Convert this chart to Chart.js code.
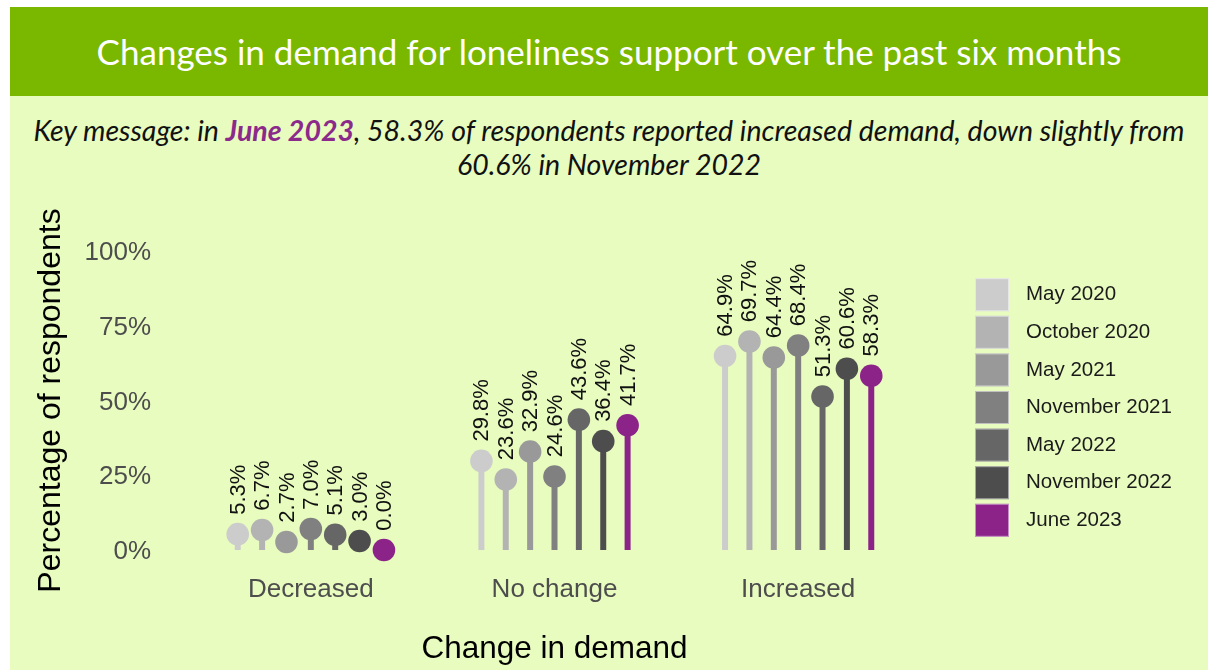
<!DOCTYPE html>
<html>
<head>
<meta charset="utf-8">
<title>Changes in demand for loneliness support</title>
<script src="https://cdn.jsdelivr.net/npm/chart.js@4.4.1/dist/chart.umd.min.js"></script>
<style>
  html, body { margin: 0; padding: 0; background: #fff; }
  .panel {
    position: absolute; left: 10px; top: 7px; width: 1198px; height: 663px;
    background: #e8fcbf; overflow: hidden;
  }
  .panel-head {
    height: 89px; background: #7ab800; color: #fff;
    font-family: Lato, 'Open Sans', sans-serif; font-size: 35px;
    text-align: center; line-height: 89px;
  }
  .key-msg {
    position: absolute; left: 0; top: 106px; width: 1198px; text-align: center;
    font-family: Lato, 'Open Sans', sans-serif; font-style: italic; font-size: 28.5px;
    line-height: 34px; color: #111;
  }
  .key-msg b { color: #8b2a8b; }
  #chart { position: absolute; left: 0; top: 183px; }
</style>
</head>
<body>
<div class="panel">
  <div class="panel-head">Changes in demand for loneliness support over the past six months</div>
  <div class="key-msg">Key message: in <b>June 2023</b>, 58.3% of respondents reported increased demand, down slightly from<br>60.6% in November 2022</div>
  <canvas id="chart" width="1198" height="480"></canvas>
</div>
<script>
  // survey rounds, one lollipop series each
  const periods = ['May 2020', 'October 2020', 'May 2021', 'November 2021', 'May 2022', 'November 2022', 'June 2023'];
  const categories = ['Decreased', 'No change', 'Increased'];
  const decreased = [5.3, 6.7, 2.7, 7.0, 5.1, 3.0, 0.0];
  const noChange = [29.8, 23.6, 32.9, 24.6, 43.6, 36.4, 41.7];
  const increased = [64.9, 69.7, 64.4, 68.4, 51.3, 60.6, 58.3];
  const yTicks = [0, 25, 50, 75, 100];
  const colours = ['#cccccc', '#b3b3b3', '#999999', '#808080', '#666666', '#4d4d4d', '#8b2388'];

  const FONT = "'Liberation Sans', Arial, sans-serif";
  const DOT_R = 11.3;

  const datasets = periods.map((p, i) => ({
    label: p,
    data: [decreased[i], noChange[i], increased[i]],
    backgroundColor: colours[i],
    barPercentage: 0.246,
    categoryPercentage: 0.7
  }));

  // heads of the lollipops + rotated value labels
  const lollipops = {
    id: 'lollipops',
    afterDatasetsDraw(chart) {
      const ctx = chart.ctx;
      chart.data.datasets.forEach((ds, i) => {
        const meta = chart.getDatasetMeta(i);
        meta.data.forEach((bar, j) => {
          ctx.save();
          ctx.fillStyle = ds.backgroundColor;
          ctx.beginPath();
          ctx.arc(bar.x, bar.y, DOT_R, 0, Math.PI * 2);
          ctx.fill();
          ctx.translate(bar.x + 1, bar.y - DOT_R - 8);
          ctx.rotate(-Math.PI / 2);
          ctx.fillStyle = '#111';
          ctx.font = '22px ' + FONT;
          ctx.textAlign = 'left';
          ctx.textBaseline = 'middle';
          ctx.fillText(ds.data[j].toFixed(1) + '%', 0, 0);
          ctx.restore();
        });
      });
    }
  };

  // legend column on the right
  const sideLegend = {
    id: 'sideLegend',
    afterDraw(chart) {
      const ctx = chart.ctx;
      ctx.save();
      chart.data.datasets.forEach((ds, i) => {
        const cy = 104.7 + i * 37.6;
        ctx.fillStyle = ds.backgroundColor;
        ctx.fillRect(965, cy - 16.5, 34, 33);
        ctx.strokeStyle = 'rgba(255,255,255,0.5)';
        ctx.lineWidth = 1;
        ctx.strokeRect(965.5, cy - 16, 33, 32);
        ctx.fillStyle = '#1a1a1a';
        ctx.font = '20.5px ' + FONT;
        ctx.textAlign = 'left';
        ctx.textBaseline = 'middle';
        ctx.fillText(ds.label, 1016, cy);
      });
      ctx.restore();
    }
  };

  new Chart(document.getElementById('chart'), {
    type: 'bar',
    data: { labels: categories, datasets: datasets },
    plugins: [lollipops, sideLegend],
    options: {
      responsive: false,
      animation: false,
      layout: { padding: { top: 61, right: 288, left: 0, bottom: 0 } },
      plugins: {
        legend: { display: false },
        tooltip: { enabled: false }
      },
      scales: {
        x: {
          grid: { display: false, drawTicks: false },
          border: { display: false },
          ticks: { color: '#4d4d4d', font: { family: FONT, size: 26 }, padding: 24 },
          title: {
            display: true, text: 'Change in demand', color: '#000',
            font: { family: FONT, size: 31.5 }, padding: { top: 0, bottom: 2 }
          },
          afterFit(scale) { scale.height = 120; }
        },
        y: {
          min: 0, max: 100,
          afterBuildTicks(scale) { scale.ticks = yTicks.map(v => ({ value: v })); },
          grid: { display: false, drawTicks: false },
          border: { display: false },
          ticks: {
            color: '#4d4d4d', font: { family: FONT, size: 26 }, padding: 38, labelOffset: 2,
            callback: v => v + '%'
          },
          title: {
            display: true, text: 'Percentage of respondents', color: '#000',
            font: { family: FONT, size: 32 }, padding: { top: 22, bottom: 0 }
          },
          afterFit(scale) { scale.width = 179; }
        }
      }
    }
  });
</script>
</body>
</html>
